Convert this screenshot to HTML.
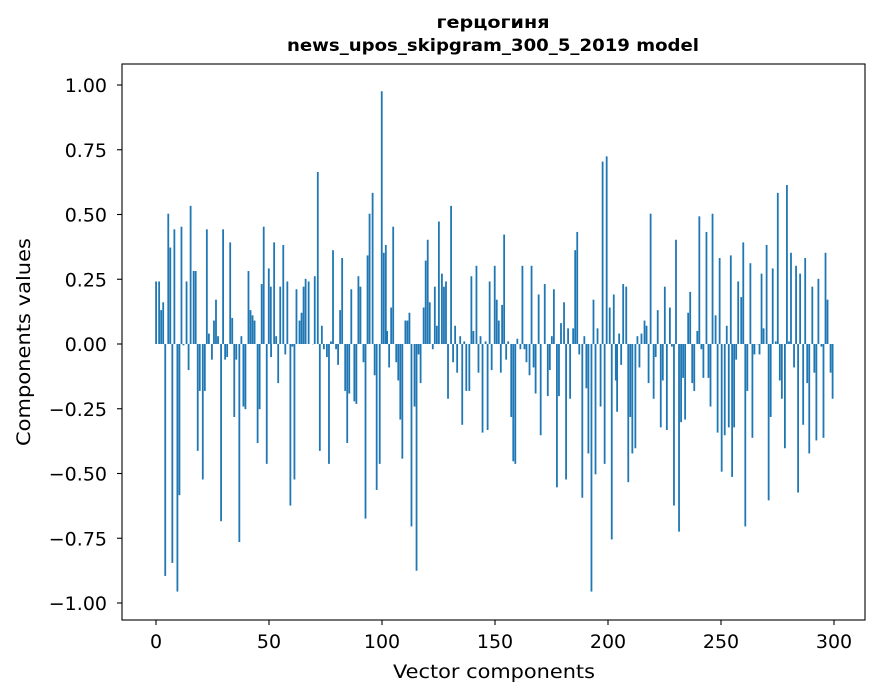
<!DOCTYPE html>
<html><head><meta charset="utf-8">
<style>
html,body{margin:0;padding:0;background:#fff;}
svg{display:block;}
text{font-family:"DejaVu Sans","Liberation Sans",sans-serif;fill:#000;}
</style></head>
<body>
<svg id="s" width="880" height="696" xmlns="http://www.w3.org/2000/svg">
<rect width="880" height="696" fill="#fff"/>
<g id="bars" fill="#1f77b4"></g>
<rect x="122" y="64" width="743" height="556" fill="none" stroke="#000" stroke-width="1.1"/>
<g id="ticks" stroke="#000" stroke-width="1.1"></g>
<g id="labels" font-size="19"></g>
<text x="493" y="28" text-anchor="middle" font-size="17" font-weight="bold" textLength="113" lengthAdjust="spacingAndGlyphs">герцогиня</text>
<text x="493" y="51" text-anchor="middle" font-size="17" font-weight="bold" textLength="412" lengthAdjust="spacingAndGlyphs">news_upos_skipgram_300_5_2019 model</text>
<text x="494" y="678" text-anchor="middle" font-size="19" textLength="202" lengthAdjust="spacingAndGlyphs">Vector components</text>
<text transform="translate(30,342) rotate(-90)" text-anchor="middle" font-size="19" textLength="208" lengthAdjust="spacingAndGlyphs">Components values</text>
</svg>
<script>
var Z=[
[150,[[18,.24],[27,.24],[33,.13],[39,.16],[45,-.89],[54,.50],[60,.37],[66,-.84],[72,.44],[81,-.95],[87,-.58],[93,.45],[99,-.005],[108,.24],[114,-.10],[120,.53],[129,.28],[135,.28],[141,-.41],[147,-.18],[156,-.52],[162,-.18],[168,.44],[174,.04],[183,-.06],[189,.09],[195,.17],[201,.03],[210,-.68],[216,.44],[222,-.06],[228,-.05],[237,.39],[243,.10],[249,-.28],[255,-.06],[264,-.76],[270,.03],[276,-.24],[282,-.25],[291,.28],[297,.13],[303,.11],[309,.09],[318,-.38],[324,-.25],[330,.23],[336,.45],[345,-.46],[351,.29],[357,.22]]],
[265,[[18,-.05],[27,.39],[33,.03],[39,-.15],[45,.22],[54,.38],[60,-.04],[66,.24],[75,-.62],[81,-.01],[87,-.52],[93,.21],[102,.09],[108,.12],[114,.22],[120,.25],[129,.24],[141,.00],[147,.26],[156,.66],[162,-.41],[168,.07],[174,-.02],[183,-.05],[189,-.46],[195,.01],[201,.36],[210,-.02],[216,-.08],[222,.13],[228,.33],[237,-.18],[243,-.38],[249,-.19],[255,.21],[264,-.22],[270,-.23],[276,.26],[282,.22],[291,-.07],[297,-.67],[303,.34],[309,.50],[318,.58],[324,-.12],[330,-.56],[339,-.46],[345,.97],[351,.35],[357,.38]]],
[380,[[21,.05],[27,-.09],[33,.14],[39,.45],[48,-.07],[54,-.14],[60,-.29],[66,-.44],[75,.09],[81,.09],[87,.12],[93,-.70],[102,-.24],[108,-.87],[114,-.04],[120,-.15],[129,.14],[135,.32],[141,.40],[147,.16],[156,-.02],[162,.22],[168,.07],[174,.47],[183,.27],[189,.22],[195,.24],[201,-.21],[210,.53],[216,-.07],[222,.07],[228,-.11],[237,.03],[243,-.31],[249,.01],[255,-.18],[264,-.18],[270,.26],[276,.05],[285,.30],[291,-.11],[297,.03],[303,-.34],[312,.01],[318,-.33],[324,.24],[330,-.10],[339,.30],[345,.17],[351,.09],[357,-.11]]],
[495,[[21,.15],[27,.42],[33,-.06],[39,.01],[48,-.28],[54,-.45],[60,-.46],[66,.02],[75,-.02],[81,.30],[87,-.02],[93,-.07],[102,-.12],[108,.30],[114,-.09],[120,-.19],[129,.19],[135,-.35],[147,.23],[156,-.20],[162,-.10],[168,.03],[174,.21],[183,-.55],[189,-.20],[195,.08],[204,.16],[210,-.52],[216,.06],[222,-.21],[231,.06],[237,.36],[243,.43],[249,-.04],[258,-.59],[264,.03],[270,-.17],[276,-.42],[285,-.95],[291,.17],[297,-.50],[303,.06],[312,-.24],[318,.70],[324,-.46],[330,.72],[339,.14],[345,-.75],[351,.19],[357,-.14]]],
[610,[[21,-.26],[27,.04],[33,-.08],[39,.23],[48,.22],[54,-.53],[60,-.28],[66,-.42],[75,-.40],[81,.03],[87,-.09],[93,.04],[102,.09],[108,.07],[114,-.15],[120,.50],[129,-.21],[135,-.05],[141,.13],[150,-.32],[156,-.14],[162,.22],[168,-.33],[177,.14],[183,-.01],[189,-.62],[195,.40],[204,-.72],[210,-.30],[216,-.13],[222,-.29],[231,.12],[237,.20],[243,-.15],[249,-.18],[258,.05],[264,.49],[270,-.02],[276,-.13],[285,.43],[291,-.13],[297,-.24],[303,.50],[312,.11],[318,-.34],[324,.33],[330,-.49],[339,-.35],[345,.07],[351,-.32],[357,.34]]],
[725,[[21,-.51],[27,-.32],[33,-.06],[39,.24],[48,.18],[54,.39],[60,-.70],[66,-.18],[75,.31],[81,-.36],[87,-.04],[96,.00],[102,-.04],[108,.27],[114,.06],[123,.38],[129,-.60],[135,-.28],[141,.29],[150,.01],[156,.58],[162,-.14],[168,-.21],[177,-.40],[183,.61],[189,.01],[195,.35],[204,-.09],[210,.30],[216,-.57],[222,.27],[231,-.31],[237,.33],[243,-.15],[249,-.42],[258,.22],[264,-.11],[270,-.37],[276,.25],[285,-.01],[291,-.36],[297,.35],[303,.17],[312,-.11],[318,-.21]]]
];
var ns="http://www.w3.org/2000/svg",g=document.getElementById('bars');
var S=259.3*1.005;
Z.forEach(function(z){z[1].forEach(function(b){
 var cx=z[0]+b[0]/2.955, v=b[1], h=Math.abs(v)*S, y=v>0?344-h:344;
 var r=document.createElementNS(ns,'rect');
 r.setAttribute('x',(cx-0.9).toFixed(2));r.setAttribute('width','1.8');
 r.setAttribute('y',y.toFixed(2));r.setAttribute('height',Math.max(h,0.3).toFixed(2));
 g.appendChild(r);});});
var t=document.getElementById('ticks'),L=document.getElementById('labels');
function line(x1,y1,x2,y2){var l=document.createElementNS(ns,'line');l.setAttribute('x1',x1);l.setAttribute('y1',y1);l.setAttribute('x2',x2);l.setAttribute('y2',y2);t.appendChild(l);}
function txt(x,y,s,a){var e=document.createElementNS(ns,'text');e.setAttribute('x',x);e.setAttribute('y',y);e.setAttribute('text-anchor',a);e.textContent=s;L.appendChild(e);}
for(var i=0;i<=6;i++){var x=156+i*113;line(x,620,x,625);txt(x,648,String(i*50),'middle');}
var yl=['1.00','0.75','0.50','0.25','0.00','\u22120.25','\u22120.50','\u22120.75','\u22121.00'];
for(var j=0;j<9;j++){var y=85+j*64.75;line(117,y,122,y);txt(107,y+7,yl[j],'end');}
</script>
</body></html>
